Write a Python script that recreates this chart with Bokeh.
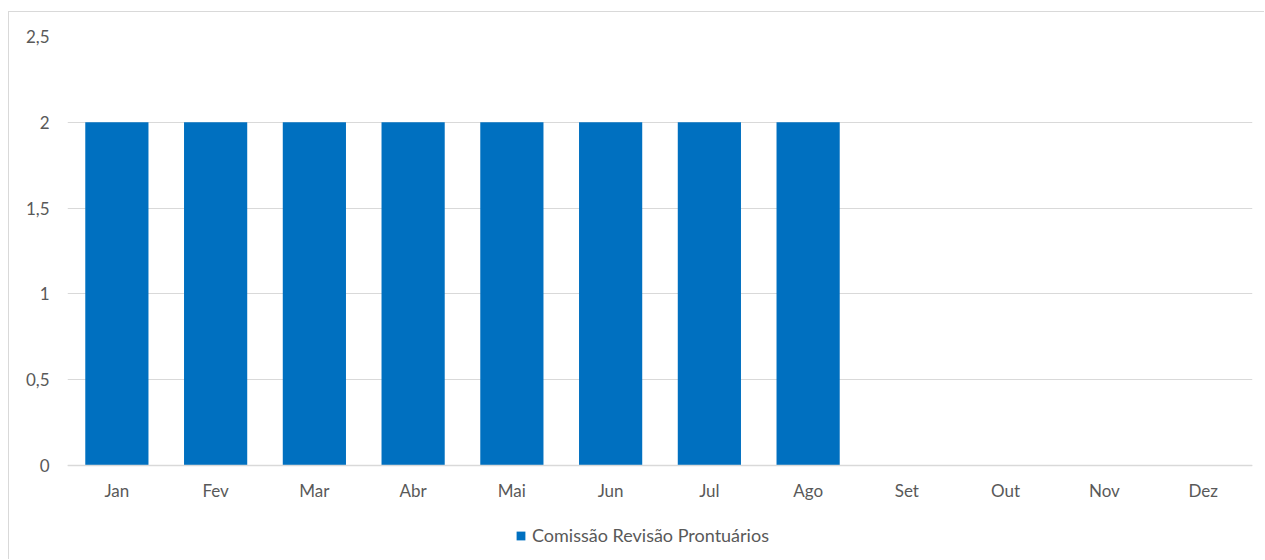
from bokeh.plotting import figure
from bokeh.models import ColumnDataSource, FixedTicker, Legend, LegendItem, CategoricalAxis
from bokeh.embed import file_html
from bokeh.resources import INLINE

months = ["Jan", "Fev", "Mar", "Abr", "Mai", "Jun", "Jul", "Ago", "Set", "Out", "Nov", "Dez"]
values = [2, 2, 2, 2, 2, 2, 2, 2, 0, 0, 0, 0]
series_name = "Comissão Revisão Prontuários"
y_ticks = [0, 0.5, 1, 1.5, 2, 2.5]
y_tick_labels = ["0", "0,5", "1", "1,5", "2", "2,5"]

FONT = "Lato"
FS = "17px"
TXT = "#595959"
GRID = "#d9d9d9"
BAR = "#0070C0"

src = ColumnDataSource(dict(month=months, value=values))

# frame spans from the 2,5 gridline down to the bottom of the window; 0 sits 95px above it
Y_BOTTOM = -95 / ((465 - 36) / 2.5)

p = figure(x_range=months, y_range=(Y_BOTTOM, 2.5), width=1256, height=548,
           output_backend="svg", toolbar_location=None, x_axis_location=None,
           min_border_left=58, min_border_right=13, min_border_top=24, min_border_bottom=0)
p.styles = {"margin-left": "8px", "margin-top": "11px",
            "border-left": "1px solid #d9d9d9", "border-top": "1px solid #d9d9d9"}

r = p.vbar(x="month", top="value", bottom=0, width=0.64, source=src, color=BAR, line_color=None)

p.outline_line_color = None
p.background_fill_color = "white"
p.border_fill_color = "white"

p.xgrid.grid_line_color = None
p.ygrid.grid_line_color = GRID
p.ygrid.grid_line_width = 1
p.ygrid.ticker = FixedTicker(ticks=y_ticks)

p.yaxis.ticker = FixedTicker(ticks=y_ticks)
p.yaxis.major_label_overrides = {t: l for t, l in zip(y_ticks, y_tick_labels)}
p.yaxis.axis_line_color = None
p.yaxis.major_tick_line_color = None
p.yaxis.minor_tick_line_color = None
p.yaxis.major_label_standoff = 12
p.yaxis.major_label_text_font = FONT
p.yaxis.major_label_text_font_size = FS
p.yaxis.major_label_text_color = TXT

xaxis = CategoricalAxis(fixed_location=0)
xaxis.axis_line_color = GRID
xaxis.axis_line_width = 1.5
xaxis.major_tick_line_color = None
xaxis.minor_tick_line_color = None
xaxis.major_label_standoff = 8
xaxis.major_label_text_font = FONT
xaxis.major_label_text_font_size = FS
xaxis.major_label_text_color = TXT
p.add_layout(xaxis, "below")

legend = Legend(items=[LegendItem(label=series_name, renderers=[r])],
                location=(448, 14), orientation="horizontal",
                glyph_width=11, glyph_height=11, padding=0, margin=0, spacing=0,
                label_standoff=6,
                label_text_font=FONT, label_text_font_size="18px", label_text_color=TXT,
                border_line_color=None, background_fill_alpha=0)
p.add_layout(legend, "center")

open("out.html", "w").write(file_html(p, INLINE))
